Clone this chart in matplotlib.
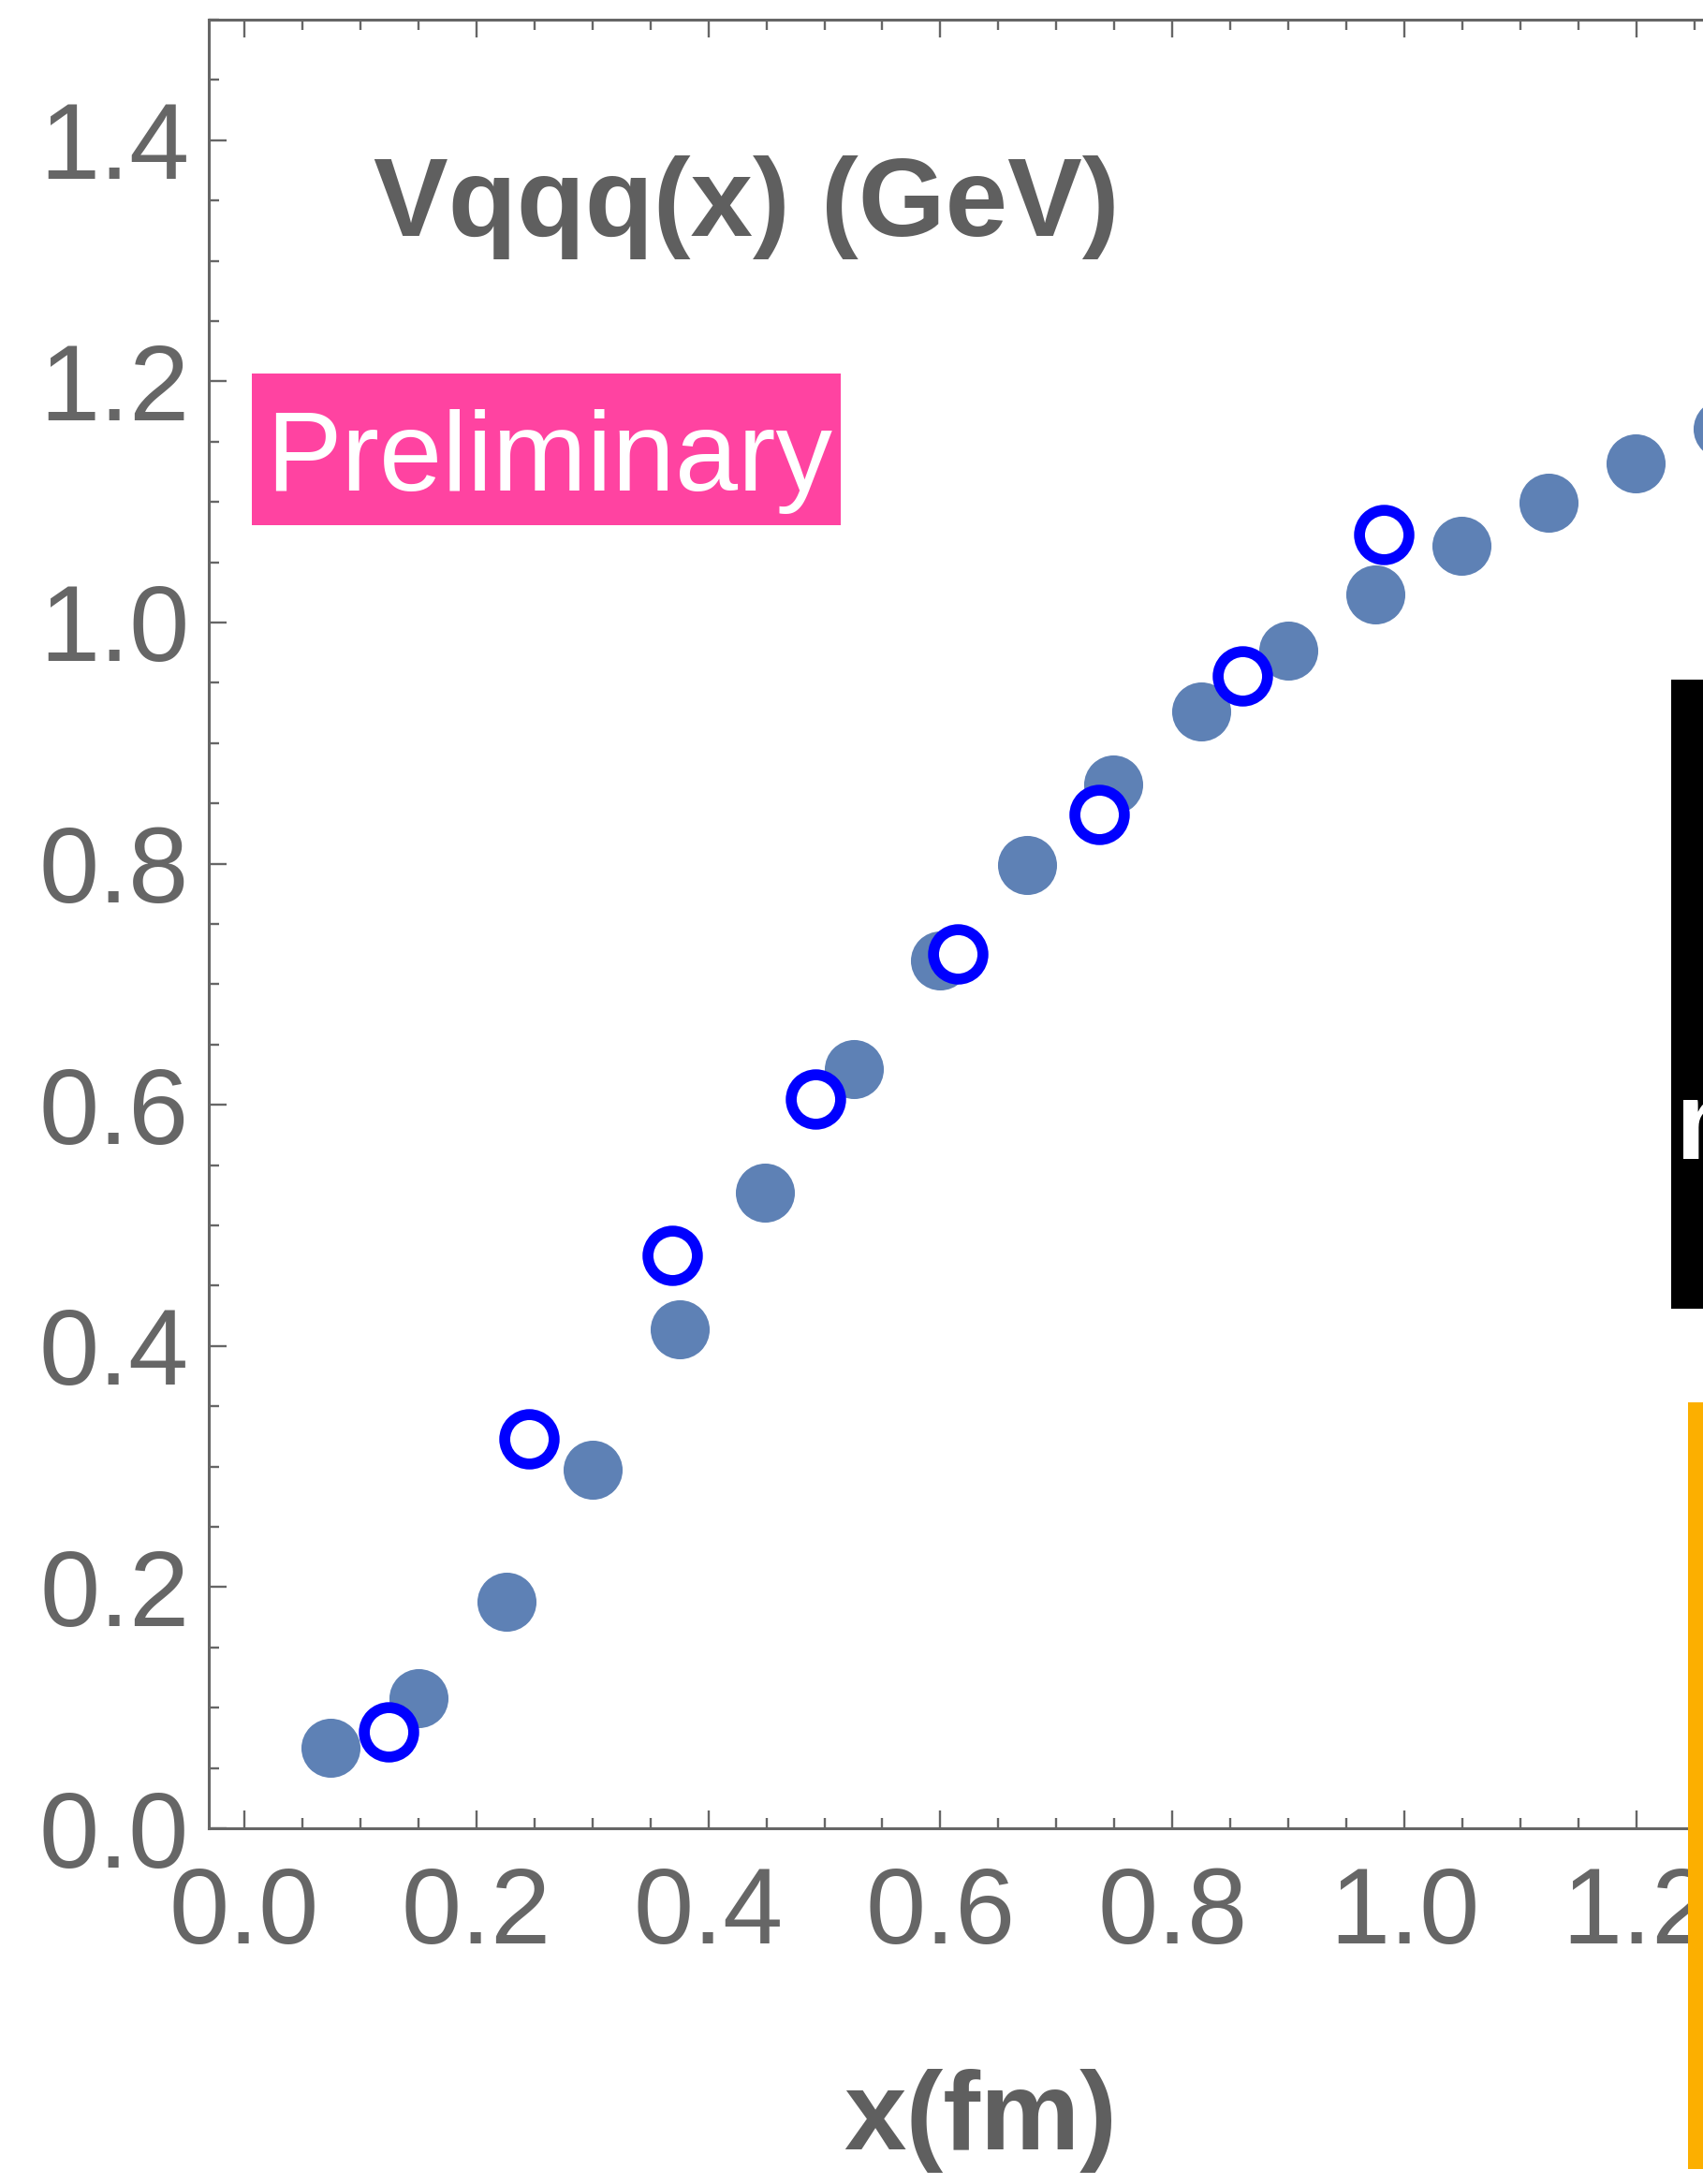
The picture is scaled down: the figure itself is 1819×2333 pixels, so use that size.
import numpy as np
import matplotlib
matplotlib.use("Agg")
import matplotlib.pyplot as plt
from matplotlib.ticker import MultipleLocator, FormatStrFormatter
from matplotlib.patches import Rectangle

plt.rcParams['font.family'] = ['Liberation Sans', 'DejaVu Sans']

# lattice points (filled)
x_filled = [0.074, 0.150, 0.226, 0.300, 0.375, 0.449, 0.525, 0.600, 0.675,
            0.749, 0.825, 0.900, 0.975, 1.049, 1.124, 1.199, 1.274]
v_filled = [0.067, 0.108, 0.188, 0.297, 0.414, 0.527, 0.630, 0.720, 0.799,
            0.866, 0.926, 0.977, 1.023, 1.064, 1.099, 1.132, 1.161]

# second set (open circles)
x_open = [0.124, 0.245, 0.369, 0.492, 0.615, 0.737, 0.860, 0.982]
v_open = [0.080, 0.323, 0.475, 0.605, 0.725, 0.841, 0.956, 1.073]

gray = '#666666'
dark = '#5f5f5f'

fig = plt.figure(figsize=(18.19, 23.33), dpi=100)
ax = fig.add_axes([0.12259, 0.16288, 0.9064, 0.82812])

ax.plot(x_filled, v_filled, 'o', ms=45.4, mew=0, color='#5e81b5', ls='none')
ax.plot(x_open, v_open, 'o', ms=38, mew=8.4, mec='#0000ff', mfc='white', ls='none')

ax.set_xlim(-0.0307, 1.30)
ax.set_ylim(0, 1.5)

for sp in ax.spines.values():
    sp.set_color(gray)
    sp.set_linewidth(2.2)

ax.xaxis.set_major_locator(MultipleLocator(0.2))
ax.xaxis.set_minor_locator(MultipleLocator(0.05))
ax.yaxis.set_major_locator(MultipleLocator(0.2))
ax.yaxis.set_minor_locator(MultipleLocator(0.05))
ax.xaxis.set_major_formatter(FormatStrFormatter('%.1f'))
ax.yaxis.set_major_formatter(FormatStrFormatter('%.1f'))

ax.tick_params(which='both', direction='in', top=True, right=True,
               color=gray, width=1.7, labelcolor=gray, labelsize=83)
ax.tick_params(which='major', length=13.5)
ax.tick_params(which='minor', length=8)
ax.tick_params(axis='x', pad=29)
ax.tick_params(axis='y', pad=15)

ax.set_xlabel('x(fm)', fontsize=86, fontweight='bold', color=dark, va='baseline')
ax.xaxis.set_label_coords(0.5, -0.1775)

ax.text(0.433, 1.3207, 'Vqqq(x) (GeV)', fontsize=86, fontweight='bold',
        color=dark, ha='center', va='baseline')

# Preliminary tag
ax.add_patch(Rectangle((0.0065, 1.0807), 0.5076, 0.1258, facecolor='#ff43a1',
                       edgecolor='none', zorder=3))
ax.text(0.2631, 1.1095, 'Preliminary', fontsize=87, color='white',
        ha='center', va='baseline', zorder=4)

# boxes cut off at the right edge
fig.patches.append(Rectangle((1785 / 1819, 1 - 1398 / 2333), 0.05, (1398 - 726) / 2333,
                             transform=fig.transFigure, facecolor='black',
                             edgecolor='none', zorder=5))
fig.patches.append(Rectangle((1803 / 1819, 1 - 2317 / 2333), 0.05, (2317 - 1498) / 2333,
                             transform=fig.transFigure, facecolor='#fcaf00',
                             edgecolor='none', zorder=5))
fig.text(1790 / 1819, 1 - 1238 / 2333, 'n', fontsize=85, fontweight='bold',
         color='white', ha='left', va='baseline', zorder=6)

fig.savefig('out.png', dpi=100)
